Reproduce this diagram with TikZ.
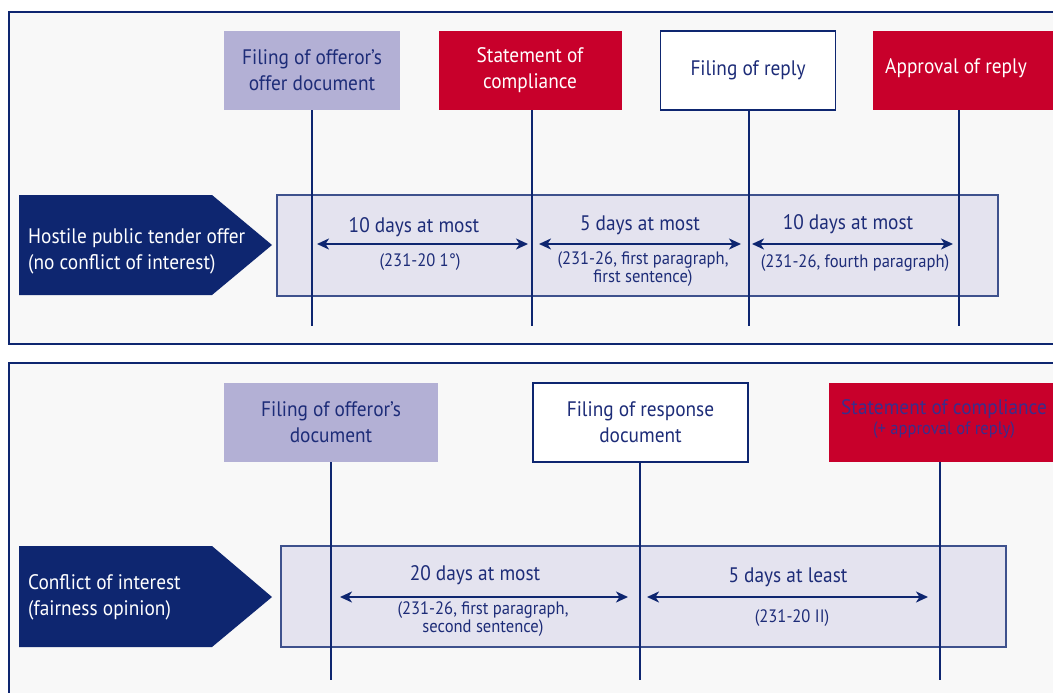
\documentclass[tikz,border=0pt]{standalone}
\usepackage{fontspec}
\setmainfont{PT Sans}[FakeStretch=0.92]
\usetikzlibrary{arrows.meta}
\definecolor{navy}{HTML}{0E2670}
\definecolor{lav}{HTML}{B3B0D5}
\definecolor{bandc}{HTML}{E4E3EF}
\definecolor{crim}{HTML}{C8002B}
\definecolor{panelbg}{HTML}{F8F8F8}
\definecolor{txt}{HTML}{1D2C78}
\definecolor{purp}{HTML}{3A2E8C}
\tikzset{
  big/.style={font=\fontsize{21}{26}\selectfont},
  small/.style={font=\fontsize{18}{14.5}\selectfont},
  boxbase/.style={minimum height=79pt, inner sep=0pt, align=center, big},
  lavbox/.style={boxbase, fill=lav, text=txt},
  redbox/.style={boxbase, fill=crim, text=white},
  whitebox/.style={boxbase, fill=white, draw=navy, line width=1.2pt, text=txt},
  vline/.style={draw=navy, line width=1.1pt},
  span/.style={draw=navy, line width=1.8pt, {Stealth[length=12pt,width=11pt,inset=3.5pt]}-{Stealth[length=12pt,width=11pt,inset=3.5pt]}},
  lbl/.style={big, text=txt, inner sep=0pt},
  sub/.style={small, text=txt, inner sep=0pt, align=center},
  panel/.style={draw=navy, line width=2.5pt, fill=panelbg},
  bandbox/.style={draw=navy!80, line width=1.2pt, fill=bandc},
  pent/.style={fill=navy},
  penttext/.style={big, text=white, align=left, anchor=west, inner sep=0pt},
}
\begin{document}
\begin{tikzpicture}[x=1pt,y=-1pt]
\useasboundingbox (0,0) rectangle (1053,693);
\fill[white] (0,0) rectangle (1053,693);
\clip (0,0) rectangle (1053,693);

% ===== top panel =====
\draw[panel] (9,12) rectangle (1075,344);
\draw[bandbox] (277,195) rectangle (998,296);
\fill[pent] (19,195) -- (212,195) -- (272,245) -- (212,295) -- (19,295) -- cycle;
\node[penttext] (t0) at (28,251) {Hostile public tender offer\\(no conflict of interest)};

\node[lavbox, minimum width=176pt] (t1) at (312,70.5) {Filing of offeror’s\\offer document};
\node[redbox, minimum width=183pt] (t2) at (530,70.5) {Statement of\\compliance};
\node[whitebox, minimum width=175pt] (t3) at (748,70.5) {Filing of reply};
\fill[crim] (873,31) rectangle (1060,110);
\node[big, text=white, inner sep=0pt] (t4) at (956,68) {Approval of reply};

\coordinate (t1e) at (312,326);
\coordinate (t2e) at (532,326);
\coordinate (t3e) at (749,326);
\coordinate (t4t) at (959,110);
\coordinate (t4e) at (959,326);
\draw[vline] (t1.south) -- (t1e);
\draw[vline] (t2.south -| t2e) -- (t2e);
\draw[vline] (t3.south -| t3e) -- (t3e);
\draw[vline] (t4t) -- (t4e);

\coordinate (a1s) at (317,244); \coordinate (a1e) at (528,244);
\coordinate (a2s) at (539,244); \coordinate (a2e) at (741,244);
\coordinate (a3s) at (752,244); \coordinate (a3e) at (953,244);
\draw[span] (a1s) -- (a1e);
\draw[span] (a2s) -- (a2e);
\draw[span] (a3s) -- (a3e);
\node[lbl] (l1) at (414,227) {10 days at most};
\node[sub] (s1) at (420,262) {(231-20 1°)};
\node[lbl] (l2) at (640,225) {5 days at most};
\node[sub] (s2) at (643,269) {(231-26, first paragraph,\\first sentence)};
\node[lbl] (l3) at (848,224) {10 days at most};
\node[sub] (s3) at (855,263) {(231-26, fourth paragraph)};

% ===== bottom panel =====
\draw[panel] (9,363) rectangle (1075,712);
\draw[bandbox] (281,546) rectangle (1006,647);
\fill[pent] (19,546) -- (212,546) -- (272,597) -- (212,647) -- (19,647) -- cycle;
\node[penttext] (b0) at (28,597) {Conflict of interest\\(fairness opinion)};

\node[lavbox, minimum width=214pt] (b1) at (331,422.5) {Filing of offeror’s\\document};
\node[whitebox, minimum width=215pt] (b2) at (640.5,422.5) {Filing of response\\document};
\fill[crim] (829,383) rectangle (1060,462);
\node[align=center, inner sep=0pt, text=purp] (b3) at (944,419)
  {{\fontsize{21}{24}\selectfont Statement of compliance}\\[1pt]{\fontsize{18}{20}\selectfont (+ approval of reply)}};

\coordinate (b1e) at (331,680);
\coordinate (b2e) at (640,680);
\coordinate (b3t) at (940,462);
\coordinate (b3e) at (940,680);
\draw[vline] (b1.south -| b1e) -- (b1e);
\draw[vline] (b2.south -| b2e) -- (b2e);
\draw[vline] (b3t) -- (b3e);

\coordinate (c1s) at (340,597); \coordinate (c1e) at (628,597);
\coordinate (c2s) at (647,597); \coordinate (c2e) at (928,597);
\draw[span] (c1s) -- (c1e);
\draw[span] (c2s) -- (c2e);
\node[lbl] (m1) at (475,575) {20 days at most};
\node[sub] (n1) at (483,619) {(231-26, first paragraph,\\second sentence)};
\node[lbl] (m2) at (788,577) {5 days at least};
\node[sub] (n2) at (792,618) {(231-20 II)};
\end{tikzpicture}
\end{document}
